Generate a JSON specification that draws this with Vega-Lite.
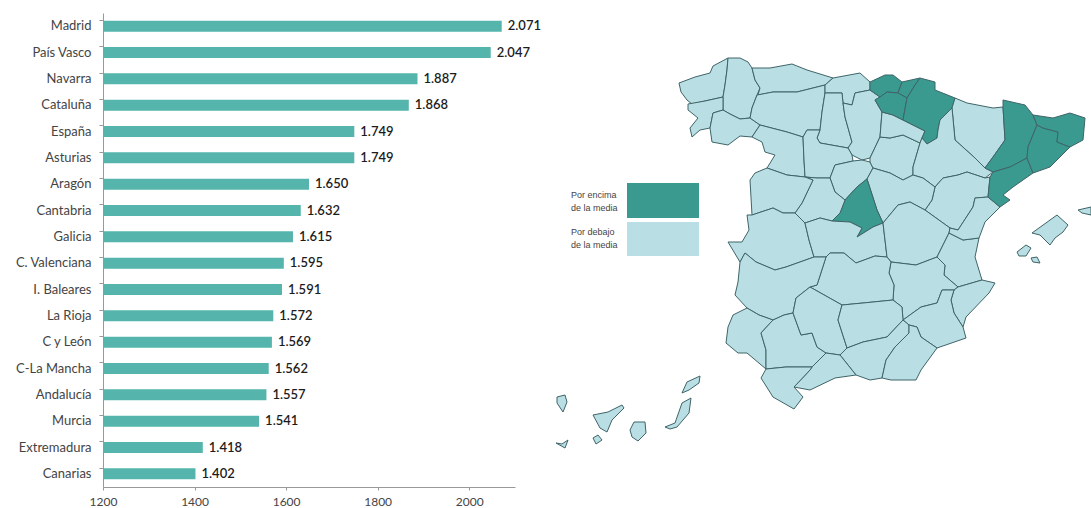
{"$schema":"https://vega.github.io/schema/vega-lite/v6.json","padding":{"left":0,"top":13,"right":0,"bottom":0},"background":"white","spacing":35,"bounds":"flush","config":{"view":{"stroke":null},"font":"Lato"},"hconcat":[{"width":412,"height":474,"data":{"values":[{"region":"Madrid","valor":2071,"etiqueta":"2.071"},{"region":"País Vasco","valor":2047,"etiqueta":"2.047"},{"region":"Navarra","valor":1887,"etiqueta":"1.887"},{"region":"Cataluña","valor":1868,"etiqueta":"1.868"},{"region":"España","valor":1749,"etiqueta":"1.749"},{"region":"Asturias","valor":1749,"etiqueta":"1.749"},{"region":"Aragón","valor":1650,"etiqueta":"1.650"},{"region":"Cantabria","valor":1632,"etiqueta":"1.632"},{"region":"Galicia","valor":1615,"etiqueta":"1.615"},{"region":"C. Valenciana","valor":1595,"etiqueta":"1.595"},{"region":"I. Baleares","valor":1591,"etiqueta":"1.591"},{"region":"La Rioja","valor":1572,"etiqueta":"1.572"},{"region":"C y León","valor":1569,"etiqueta":"1.569"},{"region":"C-La Mancha","valor":1562,"etiqueta":"1.562"},{"region":"Andalucía","valor":1557,"etiqueta":"1.557"},{"region":"Murcia","valor":1541,"etiqueta":"1.541"},{"region":"Extremadura","valor":1418,"etiqueta":"1.418"},{"region":"Canarias","valor":1402,"etiqueta":"1.402"}]},"encoding":{"y":{"field":"region","type":"nominal","sort":null,"title":null,"scale":{"paddingInner":0.58,"paddingOuter":0.29},"axis":{"bandPosition":0,"labelFontSize":13,"labelColor":"#444444","labelPadding":8,"tickSize":4,"tickColor":"#999999","domainColor":"#999999","minExtent":103,"maxExtent":103,"grid":false}},"x":{"field":"valor","type":"quantitative","title":null,"scale":{"domain":[1200,2100],"nice":false},"axis":{"values":[1200,1400,1600,1800,2000],"format":"d","labelFontSize":12,"labelFlush":false,"labelColor":"#444444","tickSize":3,"tickColor":"#999999","domainColor":"#999999","grid":false,"labelPadding":6}}},"layer":[{"mark":{"type":"bar","color":"#55b5ac","clip":true}},{"mark":{"type":"text","align":"left","dx":6,"fontSize":13,"fontWeight":600,"color":"#1c1c1c"},"encoding":{"text":{"field":"etiqueta","type":"nominal"}}}]},{"width":541,"height":474,"projection":{"type":"identity","scale":1,"translate":[-550,-13]},"layer":[{"data":{"values":[
{"type":"Feature","properties":{"name":"A Coruña","g":"d"},"geometry":{"type":"Polygon","coordinates":[[[679,83],[695,77],[710,73],[713,66],[728,58],[727,70],[725,85],[723,97],[705,101],[692,104],[687,100],[681,92],[679,83]]]}},
{"type":"Feature","properties":{"name":"Lugo","g":"d"},"geometry":{"type":"Polygon","coordinates":[[[728,58],[740,58],[748,62],[752,68],[755,80],[760,88],[757,95],[752,108],[750,118],[740,119],[730,114],[723,110],[723,97],[725,85],[727,70],[728,58]]]}},
{"type":"Feature","properties":{"name":"Pontevedra","g":"d"},"geometry":{"type":"Polygon","coordinates":[[[688,104],[705,101],[723,97],[723,110],[713,113],[710,128],[700,130],[692,137],[690,128],[698,118],[688,110],[688,104]]]}},
{"type":"Feature","properties":{"name":"Ourense","g":"d"},"geometry":{"type":"Polygon","coordinates":[[[713,113],[723,110],[730,114],[740,119],[750,118],[760,125],[752,137],[740,136],[728,145],[712,142],[710,128],[713,113]]]}},
{"type":"Feature","properties":{"name":"Asturias","g":"d"},"geometry":{"type":"Polygon","coordinates":[[[752,68],[770,68],[792,64],[807,70],[833,78],[825,85],[797,92],[773,92],[758,95],[760,88],[755,80],[752,68]]]}},
{"type":"Feature","properties":{"name":"León","g":"d"},"geometry":{"type":"Polygon","coordinates":[[[757,95],[773,92],[797,92],[825,85],[825,93],[822,112],[820,130],[807,130],[803,137],[787,132],[760,125],[750,118],[752,108],[757,95]]]}},
{"type":"Feature","properties":{"name":"Cantabria","g":"d"},"geometry":{"type":"Polygon","coordinates":[[[825,85],[833,78],[860,73],[870,82],[870,90],[855,93],[852,105],[843,103],[842,93],[825,93],[825,85]]]}},
{"type":"Feature","properties":{"name":"Palencia","g":"d"},"geometry":{"type":"Polygon","coordinates":[[[825,93],[842,93],[843,103],[845,117],[852,142],[848,148],[820,143],[817,138],[820,130],[822,112],[825,93]]]}},
{"type":"Feature","properties":{"name":"Burgos","g":"d"},"geometry":{"type":"Polygon","coordinates":[[[852,105],[855,93],[870,90],[880,97],[875,100],[882,112],[880,137],[870,158],[862,160],[852,155],[848,148],[852,142],[845,117],[843,103],[852,105]]]}},
{"type":"Feature","properties":{"name":"Zamora","g":"d"},"geometry":{"type":"Polygon","coordinates":[[[752,137],[760,125],[787,132],[803,137],[804,160],[805,177],[787,175],[767,168],[775,155],[765,152],[762,142],[752,137]]]}},
{"type":"Feature","properties":{"name":"Valladolid","g":"d"},"geometry":{"type":"Polygon","coordinates":[[[807,130],[820,130],[817,138],[820,143],[848,148],[852,155],[853,161],[835,165],[830,178],[817,178],[805,177],[804,160],[803,137],[807,130]]]}},
{"type":"Feature","properties":{"name":"Segovia","g":"d"},"geometry":{"type":"Polygon","coordinates":[[[830,178],[835,165],[853,161],[862,160],[870,162],[873,168],[867,179],[857,187],[845,200],[835,192],[830,178]]]}},
{"type":"Feature","properties":{"name":"Soria","g":"d"},"geometry":{"type":"Polygon","coordinates":[[[870,158],[880,137],[890,138],[903,135],[920,143],[913,167],[913,175],[903,180],[890,173],[873,168],[870,162],[870,158]]]}},
{"type":"Feature","properties":{"name":"La Rioja","g":"d"},"geometry":{"type":"Polygon","coordinates":[[[882,112],[893,115],[903,120],[925,131],[922,138],[920,143],[903,135],[890,138],[880,137],[882,112]]]}},
{"type":"Feature","properties":{"name":"Bizkaia","g":"e"},"geometry":{"type":"Polygon","coordinates":[[[870,82],[885,75],[893,75],[902,82],[898,93],[887,92],[880,97],[870,90],[870,82]]]}},
{"type":"Feature","properties":{"name":"Gipuzkoa","g":"e"},"geometry":{"type":"Polygon","coordinates":[[[902,82],[920,78],[915,85],[907,98],[898,93],[902,82]]]}},
{"type":"Feature","properties":{"name":"Álava","g":"e"},"geometry":{"type":"Polygon","coordinates":[[[875,100],[880,97],[887,92],[898,93],[907,98],[903,120],[893,115],[882,112],[875,100]]]}},
{"type":"Feature","properties":{"name":"Navarra","g":"e"},"geometry":{"type":"Polygon","coordinates":[[[920,78],[935,82],[935,90],[955,98],[952,108],[940,120],[938,130],[937,138],[927,144],[922,138],[925,131],[903,120],[907,98],[915,85],[920,78]]]}},
{"type":"Feature","properties":{"name":"Huesca","g":"d"},"geometry":{"type":"Polygon","coordinates":[[[955,98],[967,103],[993,108],[1003,107],[1005,140],[993,157],[985,168],[975,158],[955,140],[952,108],[955,98]]]}},
{"type":"Feature","properties":{"name":"Zaragoza","g":"d"},"geometry":{"type":"Polygon","coordinates":[[[952,108],[955,140],[975,158],[985,168],[993,172],[985,178],[967,172],[958,175],[943,178],[935,187],[923,178],[913,175],[913,167],[920,143],[922,138],[927,144],[937,138],[938,130],[940,120],[952,108]]]}},
{"type":"Feature","properties":{"name":"Teruel","g":"d"},"geometry":{"type":"Polygon","coordinates":[[[935,187],[943,178],[958,175],[967,172],[985,178],[990,177],[988,197],[975,198],[973,207],[958,230],[950,228],[925,210],[932,200],[935,187]]]}},
{"type":"Feature","properties":{"name":"Guadalajara","g":"d"},"geometry":{"type":"Polygon","coordinates":[[[867,179],[873,168],[890,173],[903,180],[913,175],[923,178],[935,187],[932,200],[925,210],[910,202],[898,205],[883,223],[877,210],[867,179]]]}},
{"type":"Feature","properties":{"name":"Madrid","g":"e"},"geometry":{"type":"Polygon","coordinates":[[[867,179],[877,210],[883,223],[873,227],[857,237],[862,228],[850,222],[832,221],[840,213],[845,200],[857,187],[867,179]]]}},
{"type":"Feature","properties":{"name":"Ávila","g":"d"},"geometry":{"type":"Polygon","coordinates":[[[805,177],[817,178],[830,178],[835,192],[845,200],[840,213],[832,221],[820,218],[805,223],[795,213],[802,203],[813,180],[805,177]]]}},
{"type":"Feature","properties":{"name":"Salamanca","g":"d"},"geometry":{"type":"Polygon","coordinates":[[[767,168],[787,175],[805,177],[813,180],[802,203],[795,213],[783,213],[773,208],[752,215],[750,180],[755,173],[767,168]]]}},
{"type":"Feature","properties":{"name":"Cáceres","g":"d"},"geometry":{"type":"Polygon","coordinates":[[[747,215],[752,215],[773,208],[783,213],[795,213],[805,223],[809,240],[814,257],[786,267],[775,270],[756,262],[745,253],[740,262],[728,242],[742,242],[749,230],[747,215]]]}},
{"type":"Feature","properties":{"name":"Toledo","g":"d"},"geometry":{"type":"Polygon","coordinates":[[[805,223],[820,218],[832,221],[850,222],[862,228],[857,237],[873,227],[883,223],[887,257],[875,256],[856,263],[844,253],[830,253],[826,257],[814,257],[809,240],[805,223]]]}},
{"type":"Feature","properties":{"name":"Cuenca","g":"d"},"geometry":{"type":"Polygon","coordinates":[[[883,223],[898,205],[910,202],[925,210],[950,228],[949,233],[937,257],[916,265],[891,262],[887,257],[883,223]]]}},
{"type":"Feature","properties":{"name":"Valencia","g":"d"},"geometry":{"type":"Polygon","coordinates":[[[949,233],[963,240],[979,238],[975,257],[982,280],[958,287],[944,275],[945,265],[937,257],[949,233]]]}},
{"type":"Feature","properties":{"name":"Castellón","g":"d"},"geometry":{"type":"Polygon","coordinates":[[[975,198],[988,197],[1000,207],[985,222],[979,238],[963,240],[949,233],[950,228],[958,230],[973,207],[975,198]]]}},
{"type":"Feature","properties":{"name":"Albacete","g":"d"},"geometry":{"type":"Polygon","coordinates":[[[891,262],[916,265],[937,257],[945,265],[944,275],[958,287],[954,290],[942,290],[937,303],[921,307],[903,320],[902,307],[893,300],[894,285],[889,273],[891,262]]]}},
{"type":"Feature","properties":{"name":"Alicante","g":"d"},"geometry":{"type":"Polygon","coordinates":[[[958,287],[982,280],[995,283],[989,293],[966,317],[963,327],[954,313],[951,300],[954,290],[958,287]]]}},
{"type":"Feature","properties":{"name":"Murcia","g":"d"},"geometry":{"type":"Polygon","coordinates":[[[942,290],[954,290],[951,300],[954,313],[963,327],[966,338],[937,348],[921,337],[917,327],[909,325],[903,320],[921,307],[937,303],[942,290]]]}},
{"type":"Feature","properties":{"name":"Ciudad Real","g":"d"},"geometry":{"type":"Polygon","coordinates":[[[817,285],[826,257],[830,253],[844,253],[856,263],[875,256],[887,257],[891,262],[889,273],[894,285],[893,300],[863,303],[842,305],[810,287],[817,285]]]}},
{"type":"Feature","properties":{"name":"Badajoz","g":"d"},"geometry":{"type":"Polygon","coordinates":[[[740,262],[745,253],[756,262],[775,270],[786,267],[814,257],[826,257],[817,285],[810,287],[796,298],[793,313],[784,315],[773,320],[759,315],[747,308],[735,295],[738,282],[740,262]]]}},
{"type":"Feature","properties":{"name":"Huelva","g":"d"},"geometry":{"type":"Polygon","coordinates":[[[747,308],[759,315],[773,320],[761,333],[766,350],[766,369],[747,353],[738,353],[726,343],[728,327],[733,315],[747,308]]]}},
{"type":"Feature","properties":{"name":"Sevilla","g":"d"},"geometry":{"type":"Polygon","coordinates":[[[773,320],[784,315],[793,313],[801,335],[812,333],[817,347],[826,353],[812,367],[786,367],[766,369],[766,350],[761,333],[773,320]]]}},
{"type":"Feature","properties":{"name":"Córdoba","g":"d"},"geometry":{"type":"Polygon","coordinates":[[[810,287],[842,305],[838,320],[847,348],[840,355],[826,353],[817,347],[812,333],[801,335],[793,313],[796,298],[810,287]]]}},
{"type":"Feature","properties":{"name":"Jaén","g":"d"},"geometry":{"type":"Polygon","coordinates":[[[842,305],[863,303],[893,300],[902,307],[903,320],[887,337],[863,342],[847,348],[838,320],[842,305]]]}},
{"type":"Feature","properties":{"name":"Granada","g":"d"},"geometry":{"type":"Polygon","coordinates":[[[847,348],[863,342],[887,337],[903,320],[909,325],[909,333],[895,347],[886,360],[882,378],[870,380],[856,375],[840,355],[847,348]]]}},
{"type":"Feature","properties":{"name":"Almería","g":"d"},"geometry":{"type":"Polygon","coordinates":[[[909,325],[917,327],[921,337],[937,348],[921,370],[916,380],[891,380],[882,378],[886,360],[895,347],[909,333],[909,325]]]}},
{"type":"Feature","properties":{"name":"Málaga","g":"d"},"geometry":{"type":"Polygon","coordinates":[[[826,353],[840,355],[856,375],[835,378],[810,390],[794,387],[810,370],[812,367],[826,353]]]}},
{"type":"Feature","properties":{"name":"Cádiz","g":"d"},"geometry":{"type":"Polygon","coordinates":[[[766,369],[786,367],[812,367],[810,370],[794,387],[803,397],[794,409],[773,397],[761,378],[766,369]]]}},
{"type":"Feature","properties":{"name":"Lleida","g":"e"},"geometry":{"type":"Polygon","coordinates":[[[1003,100],[1025,105],[1033,115],[1037,125],[1028,147],[1027,158],[1010,167],[993,172],[985,168],[993,157],[1005,140],[1003,107],[1003,100]]]}},
{"type":"Feature","properties":{"name":"Tarragona","g":"e"},"geometry":{"type":"Polygon","coordinates":[[[993,172],[1010,167],[1027,158],[1033,173],[1013,187],[1003,195],[1010,200],[1000,207],[988,197],[990,177],[993,172]]]}},
{"type":"Feature","properties":{"name":"Barcelona","g":"e"},"geometry":{"type":"Polygon","coordinates":[[[1037,125],[1043,128],[1058,132],[1057,142],[1070,147],[1050,167],[1033,173],[1027,158],[1028,147],[1037,125]]]}},
{"type":"Feature","properties":{"name":"Girona","g":"e"},"geometry":{"type":"Polygon","coordinates":[[[1033,115],[1053,118],[1070,113],[1085,118],[1083,140],[1070,147],[1057,142],[1058,132],[1043,128],[1037,125],[1033,115]]]}},
{"type":"Feature","properties":{"name":"Mallorca","g":"d"},"geometry":{"type":"Polygon","coordinates":[[[1032,233],[1057,215],[1068,225],[1063,232],[1055,238],[1050,245],[1040,235],[1032,233]]]}},
{"type":"Feature","properties":{"name":"Menorca","g":"d"},"geometry":{"type":"Polygon","coordinates":[[[1078,210],[1091,207],[1091,215],[1082,213],[1078,210]]]}},
{"type":"Feature","properties":{"name":"Ibiza","g":"d"},"geometry":{"type":"Polygon","coordinates":[[[1017,252],[1026,245],[1031,248],[1026,256],[1019,256],[1017,252]]]}},
{"type":"Feature","properties":{"name":"Formentera","g":"d"},"geometry":{"type":"Polygon","coordinates":[[[1031,258],[1037,257],[1040,263],[1033,262],[1031,258]]]}},
{"type":"Feature","properties":{"name":"La Palma","g":"d"},"geometry":{"type":"Polygon","coordinates":[[[557,397],[565,395],[567,402],[563,412],[557,403],[557,397]]]}},
{"type":"Feature","properties":{"name":"Tenerife","g":"d"},"geometry":{"type":"Polygon","coordinates":[[[593,415],[608,412],[622,405],[624,408],[612,420],[607,432],[600,428],[593,415]]]}},
{"type":"Feature","properties":{"name":"La Gomera","g":"d"},"geometry":{"type":"Polygon","coordinates":[[[593,438],[598,435],[602,440],[596,444],[593,438]]]}},
{"type":"Feature","properties":{"name":"El Hierro","g":"d"},"geometry":{"type":"Polygon","coordinates":[[[556,443],[562,444],[568,440],[565,448],[556,443]]]}},
{"type":"Feature","properties":{"name":"Gran Canaria","g":"d"},"geometry":{"type":"Polygon","coordinates":[[[630,430],[634,422],[645,422],[646,433],[638,441],[632,437],[630,430]]]}},
{"type":"Feature","properties":{"name":"Fuerteventura","g":"d"},"geometry":{"type":"Polygon","coordinates":[[[665,427],[675,423],[682,403],[691,398],[689,413],[677,427],[670,429],[665,427]]]}},
{"type":"Feature","properties":{"name":"Lanzarote","g":"d"},"geometry":{"type":"Polygon","coordinates":[[[682,393],[687,382],[700,376],[699,383],[689,390],[682,393]]]}}
]},"mark":{"type":"geoshape","stroke":"#3f6468","strokeWidth":1,"strokeJoin":"round"},"encoding":{"color":{"field":"properties.g","type":"nominal","legend":null,"scale":{"domain":["e","d"],"range":["#3a9a8f","#b9dfe4"]}}}},{"data":{"values":[
{"type":"Feature","properties":{"name":"Por encima","g":"e"},"geometry":{"type":"Polygon","coordinates":[[[627,183],[699,183],[699,218],[627,218],[627,183]]]}},
{"type":"Feature","properties":{"name":"Por debajo","g":"d"},"geometry":{"type":"Polygon","coordinates":[[[627,222],[699,222],[699,256],[627,256],[627,222]]]}}
]},"mark":{"type":"geoshape"},"encoding":{"color":{"field":"properties.g","type":"nominal","legend":null,"scale":{"domain":["e","d"],"range":["#3a9a8f","#b9dfe4"]}}}},{"data":{"values":[{"lon":571,"lat":194.5,"texto":"Por encima\nde la media"},{"lon":571,"lat":231.5,"texto":"Por debajo\nde la media"}]},"mark":{"type":"text","align":"left","baseline":"middle","font":"Liberation Sans","fontSize":9,"lineBreak":"\n","lineHeight":13,"color":"#444444"},"encoding":{"longitude":{"field":"lon","type":"quantitative"},"latitude":{"field":"lat","type":"quantitative"},"text":{"field":"texto","type":"nominal"}}}]}]}
